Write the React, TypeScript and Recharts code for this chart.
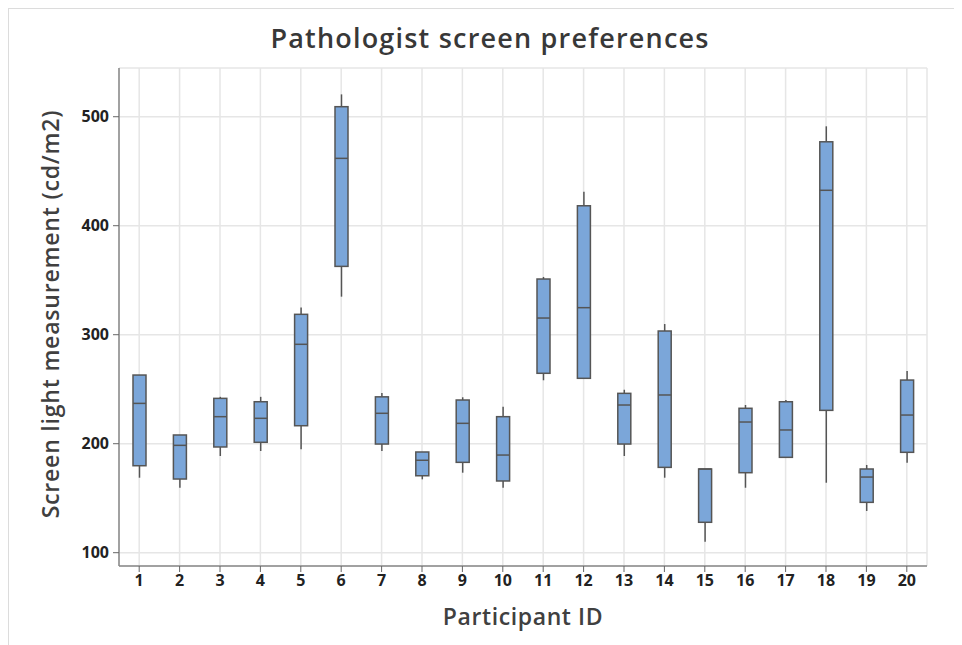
import { Bar, CartesianGrid, ComposedChart, XAxis, YAxis } from "recharts";

const participants = [
  "1", "2", "3", "4", "5", "6", "7", "8", "9", "10",
  "11", "12", "13", "14", "15", "16", "17", "18", "19", "20",
];
const whiskerLow = [168.8, 159.6, 188.7, 193.3, 194.9, 334.9, 193.3, 167.3, 173.4, 159.6, 258.2, 260, 188.7, 168.8, 110.1, 159.6, 187.5, 164.2, 138.3, 182.6];
const quartile1 = [179.8, 167.6, 197, 201.3, 216.5, 362.7, 199.7, 170.6, 182.9, 165.8, 264.6, 260, 199.7, 178.3, 127.9, 173.4, 187.5, 230.6, 146.2, 192.1];
const medians = [237, 198.5, 224.8, 223.3, 291.2, 461.8, 227.9, 184.8, 218.7, 189.6, 315.3, 324.8, 235.5, 244.7, 176.8, 219.9, 212.6, 432.5, 169.4, 226.3];
const quartile3 = [263, 208, 241.6, 238.5, 318.7, 509.2, 243, 192.4, 240.1, 224.8, 351.1, 418.3, 246.2, 303.4, 176.8, 232.5, 238.5, 477, 176.8, 258.4];
const whiskerHigh = [263, 208, 243, 243, 325, 520.5, 246.5, 192.4, 242.6, 234, 353, 431.2, 249.5, 309.8, 176.8, 235.5, 240.1, 491.2, 180.5, 266.7];

const yTicks = [100, 200, 300, 400, 500];

type BoxRow = {
  id: string;
  low: number;
  q1: number;
  median: number;
  q3: number;
  high: number;
};

const rows: BoxRow[] = participants.map((id, i) => ({
  id,
  low: whiskerLow[i],
  q1: quartile1[i],
  median: medians[i],
  q3: quartile3[i],
  high: whiskerHigh[i],
}));

const font = "'Open Sans', 'Noto Sans', sans-serif";
const edge = "#555";
const axisTitle = { fill: "#404040", fontSize: 23, fontWeight: 600, fontFamily: font };

function BoxShape(props: any) {
  const { x, y, width, height, payload } = props;
  const top = Math.min(y, y + height);
  const span = payload.high - payload.low;
  const k = span > 0 ? Math.abs(height) / span : 0;
  const py = (v: number) => top + (payload.high - v) * k;
  const cx = x + width / 2;
  return (
    <g>
      <line x1={cx} x2={cx} y1={py(payload.high)} y2={py(payload.q3)} stroke={edge} strokeWidth={1.5} />
      <line x1={cx} x2={cx} y1={py(payload.q1)} y2={py(payload.low)} stroke={edge} strokeWidth={1.5} />
      <rect
        x={x}
        y={py(payload.q3)}
        width={width}
        height={py(payload.q1) - py(payload.q3)}
        fill="#7ba6d9"
        stroke={edge}
        strokeWidth={1.5}
      />
      <line x1={x} x2={x + width} y1={py(payload.median)} y2={py(payload.median)} stroke={edge} strokeWidth={1.5} />
    </g>
  );
}

// rotated y-axis title
function YTitle() {
  const cx = 41;
  const cy = 305;
  return (
    <text
      x={cx}
      y={cy}
      transform={`rotate(-90, ${cx}, ${cy})`}
      textAnchor="middle"
      dominantBaseline="central"
      style={{ ...axisTitle, letterSpacing: 0.8 }}
    >
      Screen light measurement (cd/m2)
    </text>
  );
}

export default function App() {
  const tick = { fill: "#222", fontSize: 16, fontWeight: 700, fontFamily: font };
  return (
    <div
      style={{
        position: "relative",
        width: 954,
        height: 637,
        borderTop: "1px solid #dcdcdc",
        borderLeft: "1px solid #dcdcdc",
        boxSizing: "border-box",
        fontFamily: font,
      }}
    >
      <div
        style={{
          position: "absolute",
          left: 8,
          top: 12,
          width: 946,
          textAlign: "center",
          fontSize: 27,
          lineHeight: "34px",
          fontWeight: 600,
          color: "#383838",
          letterSpacing: 1.2,
        }}
      >
        Pathologist screen preferences
      </div>
      <ComposedChart
        width={953}
        height={636}
        data={rows}
        margin={{ top: 59, right: 35, bottom: 0, left: 0 }}
      >
        <CartesianGrid stroke="#e6e6e6" strokeWidth={1.5} />
        <XAxis
          dataKey="id"
          height={79}
          interval={0}
          tick={tick}
          tickSize={6}
          tickMargin={3}
          tickLine={{ stroke: "#666" }}
          axisLine={{ stroke: "#888", strokeWidth: 1.5 }}
          label={{
            value: "Participant ID",
            position: "insideBottom",
            offset: 20,
            style: { ...axisTitle, letterSpacing: 0.6 },
          }}
        />
        <XAxis
          xAxisId="top"
          dataKey="id"
          orientation="top"
          height={0}
          tick={false}
          tickLine={false}
          axisLine={{ stroke: "#888", strokeWidth: 1.5 }}
        />
        <YAxis
          domain={[87.8, 544.7]}
          ticks={yTicks}
          allowDataOverflow
          width={110}
          tick={tick}
          tickSize={6}
          tickMargin={4}
          tickLine={{ stroke: "#666" }}
          axisLine={{ stroke: "#888", strokeWidth: 1.5 }}
          label={{ content: YTitle }}
        />
        <YAxis
          yAxisId="right"
          orientation="right"
          domain={[87.8, 544.7]}
          allowDataOverflow
          width={0}
          tick={false}
          tickLine={false}
          axisLine={{ stroke: "#888", strokeWidth: 1.5 }}
        />
        <Bar
          dataKey={(d: BoxRow) => [d.low, d.high]}
          barSize={13}
          shape={BoxShape}
          isAnimationActive={false}
        />
      </ComposedChart>
    </div>
  );
}
